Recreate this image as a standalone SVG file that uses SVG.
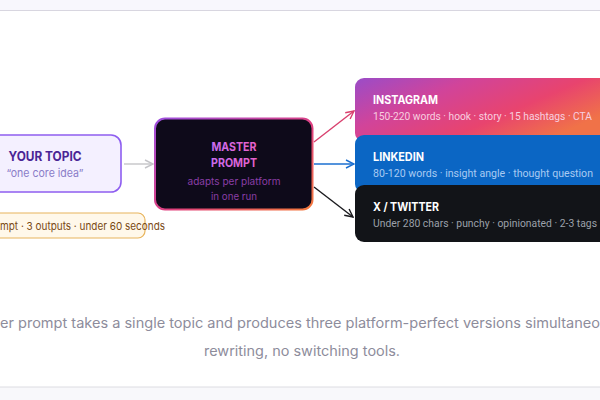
<svg xmlns="http://www.w3.org/2000/svg" width="600" height="400" viewBox="0 0 600 400">
<defs>
<style>
text{font-family:Inter,"Noto Sans","Liberation Sans",sans-serif}
.t{font-weight:700;font-size:11.5px;fill:#fff}
.s{font-family:Roboto,"Liberation Sans",sans-serif;font-size:10.5px}
.cap{font-size:14px;fill:#8d8c9b}
</style>
<linearGradient id="gStroke" x1="0" y1="0" x2="1" y2="1">
<stop offset="0" stop-color="#9d4fe0"/><stop offset="0.55" stop-color="#e0407e"/><stop offset="1" stop-color="#f47a3c"/>
</linearGradient>
<linearGradient id="gText" x1="0" y1="0" x2="1" y2="0">
<stop offset="0" stop-color="#c86cf0"/><stop offset="1" stop-color="#e860c8"/>
</linearGradient>
<linearGradient id="gInsta" x1="0" y1="0" x2="1" y2="0.6">
<stop offset="0" stop-color="#9a4cc8"/><stop offset="0.35" stop-color="#d1449a"/><stop offset="0.7" stop-color="#e8446e"/><stop offset="1" stop-color="#f07248"/>
</linearGradient>
<marker id="aGrey" viewBox="0 0 10 10" refX="9" refY="5" markerWidth="10" markerHeight="10" markerUnits="userSpaceOnUse" orient="auto"><path d="M1,1 L9,5 L1,9" fill="none" stroke="#c4c4c8" stroke-width="1.4"/></marker>
<marker id="aPink" viewBox="0 0 10 10" refX="9" refY="5" markerWidth="10" markerHeight="10" markerUnits="userSpaceOnUse" orient="auto"><path d="M1,1 L9,5 L1,9" fill="none" stroke="#d9406e" stroke-width="1.4"/></marker>
<marker id="aBlue" viewBox="0 0 10 10" refX="9" refY="5" markerWidth="10" markerHeight="10" markerUnits="userSpaceOnUse" orient="auto"><path d="M1,1 L9,5 L1,9" fill="none" stroke="#1b6fd0" stroke-width="1.4"/></marker>
<marker id="aDark" viewBox="0 0 10 10" refX="9" refY="5" markerWidth="10" markerHeight="10" markerUnits="userSpaceOnUse" orient="auto"><path d="M1,1 L9,5 L1,9" fill="none" stroke="#1a1a1e" stroke-width="1.4"/></marker>
</defs>
<rect width="600" height="400" fill="#ffffff"/>
<rect x="0" y="0" width="600" height="10.5" fill="#f8f7fd"/>
<line x1="0" y1="10.5" x2="600" y2="10.5" stroke="#d8d6e0" stroke-width="1"/>
<rect x="0" y="387" width="600" height="13" fill="#f8f8fb"/>
<line x1="0" y1="387" x2="600" y2="387" stroke="#dcdce2" stroke-width="1"/>

<g id="connectors" fill="none" stroke-width="1.4">
<line x1="124" y1="164" x2="153" y2="164" stroke="#c4c4c8" marker-end="url(#aGrey)"/>
<line x1="314" y1="142" x2="354" y2="111" stroke="#d9406e" marker-end="url(#aPink)"/>
<line x1="314" y1="164" x2="354" y2="164" stroke="#1b6fd0" marker-end="url(#aBlue)"/>
<line x1="314" y1="187" x2="353" y2="217" stroke="#1a1a1e" marker-end="url(#aDark)"/>
</g>

<g id="your-topic">
<rect x="-31" y="135" width="152" height="57" rx="10" fill="#f4f0ff" stroke="#8e5ef0" stroke-width="1.6"/>
<text x="45" y="161" text-anchor="middle" font-weight="700" font-size="12.5" fill="#4a2595" textLength="73" lengthAdjust="spacingAndGlyphs">YOUR TOPIC</text>
<text x="45" y="177" text-anchor="middle" font-size="11" fill="#8a7cc8" textLength="77" lengthAdjust="spacingAndGlyphs">“one core idea”</text>
</g>

<g id="badge">
<rect x="-8" y="213" width="153" height="25" rx="7" fill="#fff8ea" stroke="#e8b45c" stroke-width="1.2"/>
<text x="0" y="229.5" font-size="11" fill="#7a4a14" textLength="165" lengthAdjust="spacingAndGlyphs">mpt · 3 outputs · under 60 seconds</text>
</g>

<g id="master-prompt">
<rect x="155" y="118.5" width="157.5" height="91" rx="10" fill="#0e0a1a" stroke="url(#gStroke)" stroke-width="2"/>
<text x="234" y="150.5" text-anchor="middle" font-weight="700" font-size="12" fill="url(#gText)" textLength="45" lengthAdjust="spacingAndGlyphs">MASTER</text>
<text x="234" y="166.5" text-anchor="middle" font-weight="700" font-size="12" fill="url(#gText)" textLength="46" lengthAdjust="spacingAndGlyphs">PROMPT</text>
<text x="234" y="185" text-anchor="middle" font-size="10.5" fill="#8a3ea6" textLength="93" lengthAdjust="spacingAndGlyphs">adapts per platform</text>
<text x="234" y="200" text-anchor="middle" font-size="10.5" fill="#8a3ea6" textLength="46" lengthAdjust="spacingAndGlyphs">in one run</text>
</g>

<g id="instagram">
<path d="M364,78 H600 V142 H364 A9,9 0 0 1 355,133 V87 A9,9 0 0 1 364,78 Z" fill="url(#gInsta)"/>
<text class="t" x="373" y="103.5" textLength="65" lengthAdjust="spacingAndGlyphs">INSTAGRAM</text>
<text class="s" x="373" y="120" fill="#f8cfe0" textLength="219" lengthAdjust="spacingAndGlyphs">150-220 words · hook · story · 15 hashtags · CTA</text>
</g>

<g id="linkedin">
<path d="M364,135 H600 V193 H364 A9,9 0 0 1 355,184 V144 A9,9 0 0 1 364,135 Z" fill="#0b66c4"/>
<text class="t" x="373" y="161" textLength="51" lengthAdjust="spacingAndGlyphs">LINKEDIN</text>
<text class="s" x="373" y="177" fill="#a9caf2" textLength="220" lengthAdjust="spacingAndGlyphs">80-120 words · insight angle · thought question</text>
</g>

<g id="x-twitter">
<path d="M364,185 H600 V242 H364 A9,9 0 0 1 355,233 V194 A9,9 0 0 1 364,185 Z" fill="#121418"/>
<text class="t" x="373" y="211" textLength="66" lengthAdjust="spacingAndGlyphs">X / TWITTER</text>
<text class="s" x="373" y="227" fill="#9ca1aa" textLength="224" lengthAdjust="spacingAndGlyphs">Under 280 chars · punchy · opinionated · 2-3 tags</text>
</g>

<g id="caption">
<text class="cap" x="0" y="328" textLength="600" lengthAdjust="spacingAndGlyphs">er prompt takes a single topic and produces three platform-perfect versions simultaneo</text>
<text class="cap" x="302" y="356" text-anchor="middle" textLength="196" lengthAdjust="spacingAndGlyphs">rewriting, no switching tools.</text>
</g>
</svg>
